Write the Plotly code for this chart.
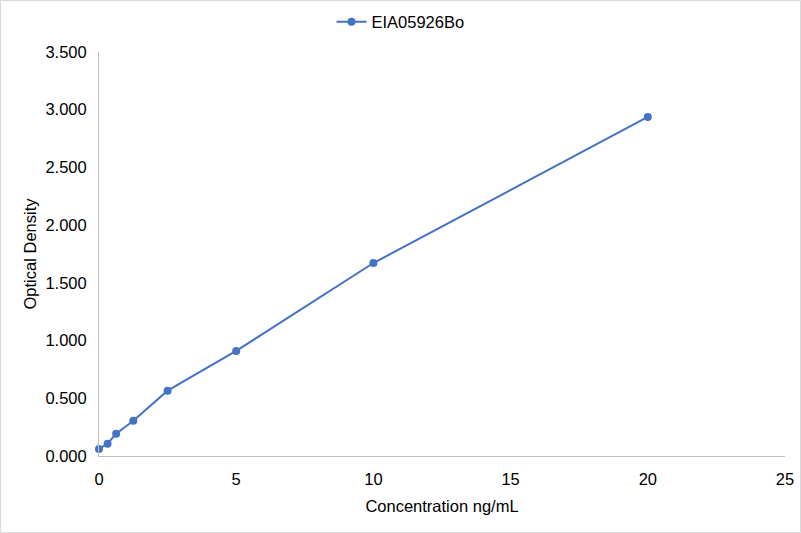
import plotly.graph_objects as go

concentration = [0, 0.3125, 0.625, 1.25, 2.5, 5, 10, 20]
optical_density = [0.061, 0.106, 0.193, 0.306, 0.566, 0.910, 1.672, 2.937]
series_name = "EIA05926Bo"

W, H = 801, 533
ml, mr, mt, mb = 99, 16, 52, 77

fig = go.Figure()
fig.add_trace(go.Scatter(
    x=concentration, y=optical_density, name=series_name,
    mode="lines+markers", cliponaxis=False,
    line=dict(color="#4472C4", width=2),
    marker=dict(color="#4472C4", size=8),
))

axis_font = dict(family="Liberation Sans, Arial", size=16.5, color="#000000")
pw, ph = W - ml - mr, H - mt - mb
# thin grey frame around the whole chart
fig.add_shape(type="rect", xref="paper", yref="paper",
              x0=-ml / pw + 0.5 / pw, x1=1 + (mr - 0.5) / pw,
              y0=-mb / ph + 0.5 / ph, y1=1 + (mt - 0.5) / ph,
              line=dict(color="#D9D9D9", width=1), layer="below")

fig.update_layout(
    width=W, height=H,
    paper_bgcolor="white", plot_bgcolor="white",
    margin=dict(l=ml, r=mr, t=mt, b=mb, autoexpand=False),
    showlegend=True,
    legend=dict(orientation="h", x=0.5, xanchor="center", xref="container",
                y=1 - 22 / H, yanchor="middle", yref="container",
                font=axis_font),
    font=axis_font,
)
fig.update_xaxes(
    range=[0, 25], tickvals=[0, 5, 10, 15, 20, 25],
    showgrid=False, zeroline=False,
    showline=True, linecolor="#BFBFBF", linewidth=1,
    ticks="", tickfont=axis_font, automargin=False, ticklabelstandoff=8,
    title=dict(text="Concentration ng/mL", font=axis_font, standoff=13),
)
fig.update_yaxes(
    range=[0, 3.5], tickvals=[0, 0.5, 1, 1.5, 2, 2.5, 3, 3.5],
    tickformat=".3f",
    showgrid=False, zeroline=False,
    showline=True, linecolor="#BFBFBF", linewidth=1,
    ticks="", tickfont=axis_font, automargin=False, ticklabelstandoff=8,
    title=dict(text="Optical Density", font=axis_font, standoff=4),
)

fig.write_html("out.html", config={"displayModeBar": False},
               post_script="document.body.style.margin='0';")
